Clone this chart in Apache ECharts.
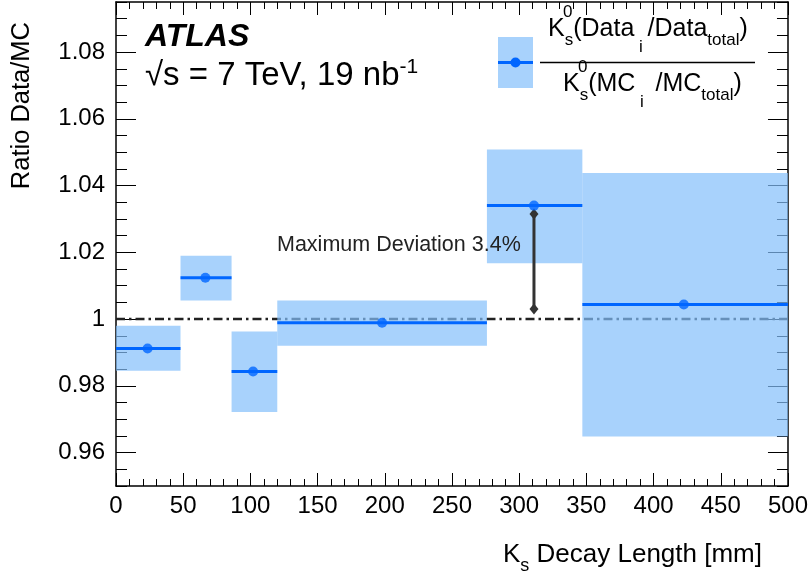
<!DOCTYPE html>
<html>
<head>
<meta charset="utf-8">
<script src="https://cdn.jsdelivr.net/npm/echarts@6/dist/echarts.min.js"></script>
<style>
html,body{margin:0;padding:0;background:#fff;}
#chart{width:811px;height:577px;}
</style>
</head>
<body>
<div id="chart"></div>
<script>
// ---- data ----
var binLow    = [0, 48, 86, 120, 276, 347];
var binHigh   = [48, 86, 120, 276, 347, 500];
var binCenter = [23.5, 66.5, 102, 198, 311, 422.5];
var ratio     = [0.9912, 1.0124, 0.9843, 0.9989, 1.034, 1.0044];
var bandLow   = [0.9845, 1.0056, 0.9722, 0.992, 1.0167, 0.9648];
var bandHigh  = [0.998, 1.019, 0.9963, 1.0056, 1.0508, 1.0438];
var refLine   = [[0, 1], [500, 1]];
var arrowPts  = [[311, 1.0315], [311, 1.003]];
var yMajorTicks = [0.96, 0.98, 1, 1.02, 1.04, 1.06, 1.08];
var xMin = 0, xMax = 500, xStep = 50;
var yMin = 0.95, yMax = 1.095, yMinorStep = 0.005;

var FONT = 'Liberation Sans, Arial, Helvetica, sans-serif';
var BLUE = '#0066ff';
var BAND = 'rgba(131,191,251,0.7)';
var BAND_SOLID = '#a8d2fc';

var chart = echarts.init(document.getElementById('chart'), null, {renderer: 'canvas'});

function xAxisCfg(pos, showLabel) {
  return {
    type: 'value', position: pos, min: xMin, max: xMax, interval: xStep,
    axisLine: {show: true, onZero: false, lineStyle: {color: '#000', width: 1.5}},
    axisTick: {show: true, inside: true, length: 13, lineStyle: {color: '#000', width: 1}},
    minorTick: {show: true, splitNumber: 5, length: 7, lineStyle: {color: '#000', width: 1}},
    splitLine: {show: false}, minorSplitLine: {show: false},
    axisLabel: {show: showLabel, color: '#000', fontSize: 24, fontFamily: FONT, margin: 8}
  };
}
function yMajorCfg(pos, showLabel) {
  return {
    type: 'value', position: pos, min: yMin, max: yMax,
    axisLine: {show: true, onZero: false, lineStyle: {color: '#000', width: 1.5}},
    axisTick: {show: true, inside: true, length: 20, customValues: yMajorTicks, lineStyle: {color: '#000', width: 1}},
    splitLine: {show: false},
    axisLabel: {show: showLabel, customValues: yMajorTicks, color: '#000', fontSize: 24, fontFamily: FONT, margin: 11,
      formatter: function (v) { return Math.abs(v - 1) < 1e-9 ? '1' : v.toFixed(2); }}
  };
}
function yMinorCfg(pos) {
  return {
    type: 'value', position: pos, min: yMin, max: yMax, interval: yMinorStep,
    axisLine: {show: false, onZero: false},
    axisTick: {show: true, inside: true, length: 11, lineStyle: {color: '#000', width: 1}},
    splitLine: {show: false},
    axisLabel: {show: false}
  };
}

var bandData = binLow.map(function (l, i) { return [l, binHigh[i], bandLow[i], bandHigh[i]]; });
var hlineData = binLow.map(function (l, i) { return [l, binHigh[i], ratio[i]]; });
var pointData = binCenter.map(function (c, i) { return [c, ratio[i]]; });

var mainRich = {
  n:  {fontSize: 25, lineHeight: 25, verticalAlign: 'top', fontFamily: FONT, color: '#000'},
  sb: {fontSize: 17, lineHeight: 17, verticalAlign: 'top', padding: [15, 0, 0, 0], fontFamily: FONT, color: '#000'},
  si: {fontSize: 17, lineHeight: 17, verticalAlign: 'top', padding: [22, 0, 0, 0], fontFamily: FONT, color: '#000'}
};
var titleRich = {
  n:  {fontSize: 26, lineHeight: 26, verticalAlign: 'top', fontFamily: FONT, color: '#000'},
  sb: {fontSize: 18, lineHeight: 18, verticalAlign: 'top', padding: [15, 0, 0, 0], fontFamily: FONT, color: '#000'}
};

var option = {
  animation: false,
  backgroundColor: '#fff',
  grid: {left: 116, right: 21, top: 2, bottom: 91, containLabel: false},
  xAxis: [xAxisCfg('bottom', true), xAxisCfg('top', false)],
  yAxis: [yMajorCfg('left', true), yMinorCfg('left'), yMajorCfg('right', false), yMinorCfg('right')],
  series: [
    {
      type: 'line', data: refLine, xAxisIndex: 0, yAxisIndex: 0, symbol: 'none', z: 1, silent: true,
      lineStyle: {color: '#222', width: 2.5, type: [9, 4, 2.5, 4]}
    },
    {
      type: 'custom', data: bandData, xAxisIndex: 0, yAxisIndex: 0, z: 2,
      encode: {x: [0, 1], y: [2, 3]},
      renderItem: function (params, api) {
        var p0 = api.coord([api.value(0), api.value(3)]);
        var p1 = api.coord([api.value(1), api.value(2)]);
        return {type: 'rect', shape: {x: p0[0], y: p0[1], width: p1[0] - p0[0], height: p1[1] - p0[1]},
                style: {fill: BAND}};
      }
    },
    {
      type: 'line', data: arrowPts, xAxisIndex: 0, yAxisIndex: 0, z: 3,
      symbol: 'diamond', symbolSize: [9, 11], showSymbol: true,
      itemStyle: {color: '#333'}, lineStyle: {color: '#333', width: 3}
    },
    {
      type: 'custom', data: hlineData, xAxisIndex: 0, yAxisIndex: 0, z: 4,
      encode: {x: [0, 1], y: 2},
      renderItem: function (params, api) {
        var a = api.coord([api.value(0), api.value(2)]);
        var b = api.coord([api.value(1), api.value(2)]);
        return {type: 'line', shape: {x1: a[0], y1: a[1], x2: b[0], y2: b[1]},
                style: {stroke: BLUE, lineWidth: 3}};
      }
    },
    {
      type: 'scatter', data: pointData, xAxisIndex: 0, yAxisIndex: 0, z: 5,
      symbol: 'circle', symbolSize: 10, itemStyle: {color: BLUE}
    }
  ],
  graphic: [
    // y-axis title
    {type: 'text', x: 22, y: 22, rotation: Math.PI / 2, z: 10,
     style: {text: 'Ratio Data/MC', fontSize: 25.5, fontFamily: FONT, fill: '#000', align: 'right', verticalAlign: 'middle'}},
    // x-axis title
    {type: 'text', x: 762, y: 542, z: 10,
     style: {text: '{n|K}{sb|s}{n| Decay Length [mm]}', align: 'right', verticalAlign: 'top', rich: titleRich}},
    // ATLAS label
    {type: 'text', x: 145, y: 37.5, z: 10,
     style: {text: 'ATLAS', fontSize: 32, fontWeight: 'bold', fontStyle: 'italic', fontFamily: FONT, fill: '#000',
             align: 'left', verticalAlign: 'middle'}},
    {type: 'text', x: 145, y: 50, z: 10,
     style: {text: '{m|\u221As = 7 TeV, 19 nb}{sp|-1}', align: 'left', verticalAlign: 'top',
             rich: {m: {fontSize: 33, lineHeight: 33, verticalAlign: 'top', padding: [9, 0, 0, 0], fontFamily: FONT, color: '#000'},
                    sp: {fontSize: 21, lineHeight: 21, verticalAlign: 'top', padding: [7, 0, 0, 0], fontFamily: FONT, color: '#000'}}}},
    // annotation
    {type: 'text', x: 277, y: 245, z: 10,
     style: {text: 'Maximum Deviation 3.4%', fontSize: 21.5, fontFamily: FONT, fill: '#222', align: 'left', verticalAlign: 'middle'}},
    // legend swatch
    {type: 'rect', shape: {x: 498, y: 37, width: 35, height: 51}, style: {fill: BAND_SOLID}, z: 10},
    {type: 'line', shape: {x1: 498, y1: 62.5, x2: 533, y2: 62.5}, style: {stroke: BLUE, lineWidth: 3}, z: 11},
    {type: 'circle', shape: {cx: 515.5, cy: 62.5, r: 5}, style: {fill: BLUE}, z: 12},
    // fraction line
    {type: 'line', shape: {x1: 540, y1: 62.5, x2: 755, y2: 62.5}, style: {stroke: '#000', lineWidth: 1.5}, z: 10},
    // numerator
    {type: 'text', x: 548, y: 17, z: 10,
     style: {text: '{n|K}{sb|s}{n|(Data}{si| i }{n|/Data}{sb|total}{n|)}', align: 'left', verticalAlign: 'top', rich: mainRich}},
    {type: 'text', x: 563, y: 12.5, z: 10,
     style: {text: '0', fontSize: 17, fontFamily: FONT, fill: '#000', align: 'left', verticalAlign: 'middle'}},
    // denominator
    {type: 'text', x: 563, y: 72, z: 10,
     style: {text: '{n|K}{sb|s}{n|(MC}{si| i }{n| /MC}{sb|total}{n|)}', align: 'left', verticalAlign: 'top', rich: mainRich}},
    {type: 'text', x: 578, y: 67, z: 10,
     style: {text: '0', fontSize: 17, fontFamily: FONT, fill: '#000', align: 'left', verticalAlign: 'middle'}}
  ]
};
chart.setOption(option);
</script>
</body>
</html>
